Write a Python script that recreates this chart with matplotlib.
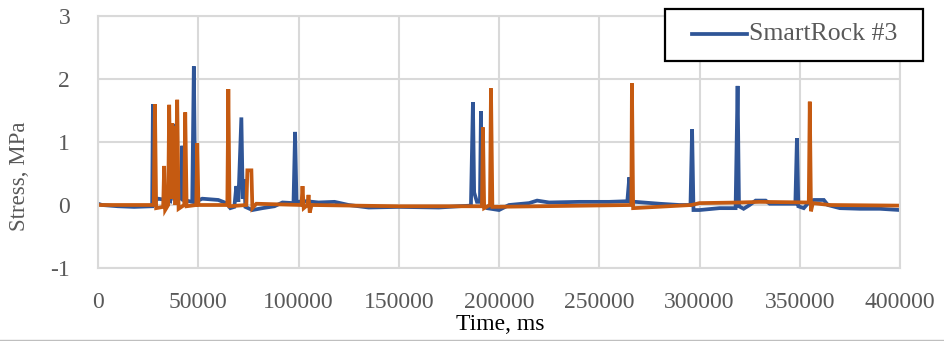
import matplotlib
matplotlib.use("Agg")
import matplotlib.pyplot as plt
from matplotlib.lines import Line2D
from matplotlib.patches import Rectangle

plt.rcParams["axes.unicode_minus"] = False

# SmartRock #3 stress record (time in ms, stress in MPa)
blue_t = [0, 2000, 10000, 18000, 27000, 27400, 27900, 30000, 34000, 36000,
          37500, 38000, 41500, 42000, 42500, 47000, 47800, 48500, 52000, 60000,
          64000, 66000, 68000, 69000, 70000, 71500, 72200, 73000, 73500, 77000,
          82000, 88000, 92000, 97500, 98300, 99000, 104000, 110000, 118000, 125000,
          135000, 150000, 170000, 180000, 186000, 187000, 187600, 189000, 190500, 191000,
          191600, 194000, 200000, 205000, 215000, 219000, 225000, 240000, 255000, 264000,
          265000, 265700, 268000, 280000, 290000, 295500, 296300, 297000, 300000, 310000,
          318000, 319000, 319700, 322000, 325000, 328000, 333000, 335000, 347800, 348600,
          349300, 352000, 355000, 357000, 362000, 364000, 370000, 380000, 390000, 400000]
blue_v = [0.02, 0.0, -0.02, -0.03, -0.02, 1.60, 0.05, 0.10, 0.08, 0.06,
          1.29, 0.10, 0.10, 0.94, 0.08, 0.05, 2.20, 0.05, 0.10, 0.08,
          0.03, -0.05, -0.03, 0.30, 0.05, 1.39, 0.10, 0.41, -0.03, -0.08,
          -0.05, -0.02, 0.04, 0.03, 1.16, 0.05, 0.06, 0.04, 0.05, 0.00,
          -0.04, -0.03, -0.04, -0.02, -0.01, 1.63, 0.20, 0.05, 0.05, 1.49,
          0.00, -0.05, -0.08, 0.00, 0.03, 0.07, 0.04, 0.05, 0.05, 0.06,
          0.44, 0.05, 0.05, 0.02, 0.00, 0.00, 1.20, -0.08, -0.08, -0.05,
          -0.05, 1.89, -0.02, -0.06, 0.00, 0.07, 0.07, 0.02, 0.02, 1.06,
          -0.02, -0.05, 0.06, 0.08, 0.08, 0.00, -0.05, -0.06, -0.06, -0.08]

# second sensor trace, drawn on top without a legend entry
orange_t = [0, 27800, 28400, 29000, 32500, 33000, 33500, 35000, 35500, 36200,
            36800, 37400, 38000, 38600, 39500, 40200, 43000, 43500, 44200, 49000,
            49500, 50100, 64500, 65000, 65600, 74000, 74500, 76500, 77000, 79000,
            101500, 102000, 102600, 104500, 105000, 105600, 106500, 150000, 191500, 192000,
            192600, 195500, 196000, 196700, 266000, 266300, 266900, 296000, 300000, 320000,
            330000, 354500, 355000, 355600, 356500, 365000, 400000]
orange_v = [0.00, 0.00, 1.60, -0.05, -0.03, 0.62, -0.08, 0.00, 1.59, 0.10,
            1.30, 0.10, 1.25, 0.00, 1.67, -0.06, 0.00, 1.47, -0.02, 0.00,
            0.98, 0.00, 0.00, 1.84, -0.02, 0.00, 0.55, 0.55, -0.05, 0.02,
            0.00, 0.30, -0.05, 0.00, 0.16, -0.12, 0.00, -0.02, -0.02, 1.23,
            -0.05, 0.00, 1.85, -0.03, 0.00, 1.93, -0.05, 0.00, 0.03, 0.04,
            0.05, 0.04, 1.64, -0.10, 0.03, 0.00, -0.01]

x_ticks = [0, 50000, 100000, 150000, 200000, 250000, 300000, 350000, 400000]
y_ticks = [-1, 0, 1, 2, 3]

BLUE = "#2F5597"
ORANGE = "#C55A11"
GRID = "#D9D9D9"
TICK_GRAY = "#595959"
serif = "Liberation Serif"

W, H = 944, 341
fig = plt.figure(figsize=(W / 100, H / 100), dpi=100)
ax = fig.add_axes([98 / W, 1 - 268 / H, 802 / W, 252 / H])

blue_line, = ax.plot(blue_t, blue_v, color=BLUE, lw=2.7, solid_joinstyle="miter")
ax.plot(orange_t, orange_v, color=ORANGE, lw=2.7, solid_joinstyle="miter")

ax.set_xlim(0, 400000)
ax.set_ylim(-1, 3)
ax.set_xticks(x_ticks)
ax.set_yticks(y_ticks)
ax.set_xticklabels([str(v) for v in x_ticks])
ax.grid(True, color=GRID, lw=1.5)
ax.set_axisbelow(True)
for s in ax.spines.values():
    s.set_color(GRID)
    s.set_linewidth(1.5)
ax.tick_params(length=0, labelcolor=TICK_GRAY, labelsize=17)
ax.tick_params(axis="x", pad=17)
ax.tick_params(axis="y", pad=20)
for lab in ax.get_xticklabels() + ax.get_yticklabels():
    lab.set_fontfamily(serif)

fig.text(500 / W, 1 - 324 / H, "Time, ms", ha="center", va="center",
         fontsize=17, family=serif, color="black")
fig.text(20 / W, 1 - 176 / H, "Stress, MPa", ha="center", va="center",
         rotation=90, fontsize=16.5, family=serif, color=TICK_GRAY)

# legend box
fig.add_artist(Rectangle((665 / W, 1 - 61 / H), 258 / W, 52 / H,
                         transform=fig.transFigure, facecolor="white",
                         edgecolor="black", lw=1.6, zorder=5))
fig.add_artist(Line2D([692 / W, 747 / W], [1 - 34 / H, 1 - 34 / H],
                      transform=fig.transFigure, color=blue_line.get_color(),
                      lw=2.7, zorder=6))
fig.text(749 / W, 1 - 34 / H, "SmartRock #3", ha="left", va="center",
         fontsize=18.5, family=serif, color=TICK_GRAY, zorder=6)

# thin rule along the bottom edge
fig.add_artist(Line2D([0, 1], [1 - 339.5 / H, 1 - 339.5 / H],
                      transform=fig.transFigure, color="#BFBFBF", lw=1))

fig.savefig("out.png", dpi=100)
